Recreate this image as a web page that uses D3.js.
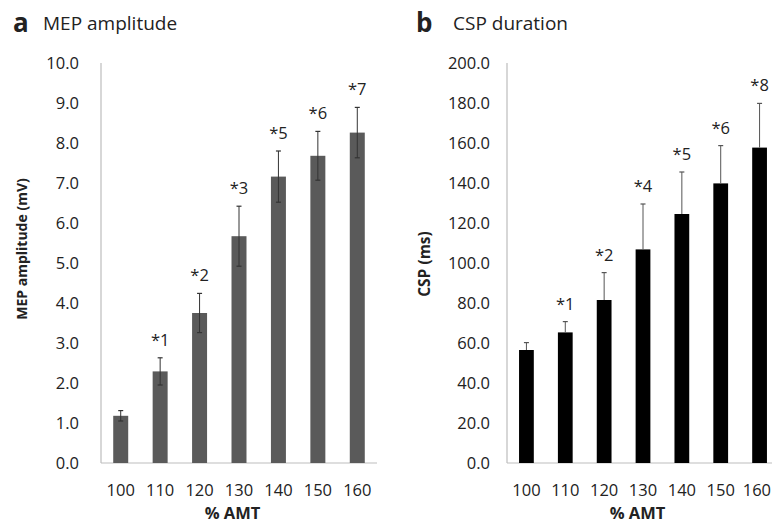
<!DOCTYPE html>
<html><head><meta charset="utf-8">
<script src="https://cdn.jsdelivr.net/npm/d3@7"></script>
<style>
body{margin:0;background:#fff;}
svg{display:block;}
text{font-family:"Open Sans",sans-serif;fill:#222;}
</style></head>
<body>
<svg id="c" width="772" height="523"></svg>
<script>
const categories = ["100","110","120","130","140","150","160"];
const mepValues = [1.18, 2.29, 3.75, 5.67, 7.16, 7.68, 8.26];
const mepErrors = [0.13, 0.34, 0.49, 0.75, 0.64, 0.61, 0.63];
const mepLabels = ["", "*1", "*2", "*3", "*5", "*6", "*7"];
const mepTicks = [0,1,2,3,4,5,6,7,8,9,10];
const cspValues = [56.5, 65.3, 81.5, 106.8, 124.5, 139.8, 157.7];
const cspErrors = [3.7, 5.4, 13.7, 22.7, 21.0, 18.9, 22.1];
const cspLabels = ["", "*1", "*2", "*4", "*5", "*6", "*8"];
const cspTicks = [0,20,40,60,80,100,120,140,160,180,200];

const svg = d3.select("#c");
const W = 772;
const FS = 16.5;

function panel(o){
  const g = svg.append("g");
  const x = d3.scaleBand().domain(categories).range([o.x0, o.x1]).paddingInner(0.62).paddingOuter(0.31);
  const y = d3.scaleLinear().domain([0, o.max]).range([463, 63]);
  g.append("line").attr("x1", o.x0).attr("x2", o.x0).attr("y1", y(o.max)).attr("y2", y(0))
    .attr("stroke", "#bdbdbd").attr("stroke-width", 1.2);
  g.append("line").attr("x1", o.x0).attr("x2", o.x1).attr("y1", y(0)).attr("y2", y(0))
    .attr("stroke", "#bdbdbd").attr("stroke-width", 1.2);
  const yAxis = d3.axisLeft(y).tickValues(o.ticks).tickSize(0).tickPadding(0).tickFormat(d3.format(".1f"));
  const ya = g.append("g").attr("transform", `translate(${o.x0 - o.yLabGap},0)`).call(yAxis);
  ya.select(".domain").remove();
  ya.selectAll("text").attr("font-size", FS).attr("font-family", '"Open Sans",sans-serif').attr("fill", "#222");
  const xAxis = d3.axisBottom(x).tickSize(0).tickPadding(0);
  const xa = g.append("g").attr("transform", `translate(0,${y(0) + 21})`).call(xAxis);
  xa.select(".domain").remove();
  xa.selectAll("text").attr("font-size", FS).attr("font-family", '"Open Sans",sans-serif').attr("fill", "#222");
  // keep labels inside the page
  xa.selectAll(".tick").each(function(d){
    const t = d3.select(this).select("text");
    const c = x(d) + x.bandwidth()/2;
    const w = t.node().getComputedTextLength();
    if (c + w/2 > W - 1) t.attr("text-anchor", "end").attr("x", (W - 1) - c);
  });
  g.selectAll("rect.bar").data(o.values).join("rect")
    .attr("x", (d,i) => x(categories[i])).attr("width", x.bandwidth())
    .attr("y", d => y(d)).attr("height", d => y(0) - y(d))
    .attr("fill", o.color);
  o.values.forEach((v,i) => {
    const cx = x(categories[i]) + x.bandwidth()/2;
    const top = y(v + o.errors[i]);
    const bot = o.twoSided ? y(v - o.errors[i]) : y(v);
    g.append("line").attr("x1", cx).attr("x2", cx).attr("y1", top).attr("y2", bot)
      .attr("stroke", o.errColor).attr("stroke-width", 1);
    g.append("line").attr("x1", cx-2.5).attr("x2", cx+2.5).attr("y1", top).attr("y2", top)
      .attr("stroke", o.errColor).attr("stroke-width", 1.2);
    if (o.twoSided) g.append("line").attr("x1", cx-2.5).attr("x2", cx+2.5).attr("y1", bot).attr("y2", bot)
      .attr("stroke", o.errColor).attr("stroke-width", 1.2);
    if (o.labels[i]) g.append("text").attr("x", cx).attr("y", top - 12)
      .attr("text-anchor", "middle").attr("font-size", FS).text(o.labels[i]);
  });
  g.append("text").attr("x", o.xTitleX).attr("y", 519)
    .attr("text-anchor", "middle").attr("font-size", FS).attr("font-weight", "bold").text("% AMT");
  g.append("text").attr("transform", `translate(${o.yTitleX},${o.yTitleY}) rotate(-90)`)
    .attr("text-anchor", "middle").attr("font-size", o.yTitleFS).attr("font-weight", "bold").text(o.yTitle);
  g.append("text").attr("x", o.letterX).attr("y", 32).attr("font-family", "Liberation Sans, Arial, sans-serif")
    .attr("font-size", 26).attr("font-weight", "bold").attr("fill", "#111").text(o.letter);
  g.append("text").attr("x", o.titleX).attr("y", 30).attr("font-size", 19).text(o.title);
}

panel({x0:101, x1:377, max:10, ticks:mepTicks, values:mepValues, errors:mepErrors, labels:mepLabels,
  color:"#5a5a5a", errColor:"#333", twoSided:true, yTitle:"MEP amplitude (mV)", yTitleX:27, yTitleY:249, yTitleFS:14,
  yLabGap:22, xTitleX:232.5, letter:"a", letterX:13, title:"MEP amplitude", titleX:43});
panel({x0:507, x1:779, max:200, ticks:cspTicks, values:cspValues, errors:cspErrors, labels:cspLabels,
  color:"#000", errColor:"#555", twoSided:false, yTitle:"CSP (ms)", yTitleX:430, yTitleY:264, yTitleFS:15.5,
  yLabGap:17, xTitleX:637.5, letter:"b", letterX:416, title:"CSP duration", titleX:453});
</script>
</body></html>
